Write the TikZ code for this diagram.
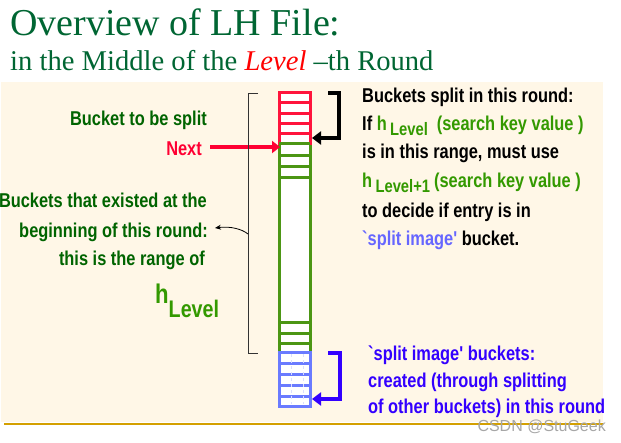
\documentclass[tikz,border=0pt]{standalone}
\usepackage{fontspec}
\setmainfont{Liberation Serif}
\newfontfamily\nb{Liberation Sans}[FakeStretch=0.82,Ligatures=TeXOff]
\newfontfamily\wmfont{Liberation Sans}
\usetikzlibrary{arrows.meta}
\definecolor{cream}{RGB}{255,247,231}
\definecolor{titlegreen}{RGB}{0,102,51}
\definecolor{dgreen}{RGB}{0,100,0}
\definecolor{lgreen}{RGB}{51,153,0}
\definecolor{colgreen}{RGB}{76,150,20}
\definecolor{colred}{RGB}{255,20,60}
\definecolor{nextred}{RGB}{255,0,51}
\definecolor{colblue}{RGB}{106,123,255}
\definecolor{lblue}{RGB}{102,102,255}
\definecolor{dblue}{RGB}{51,0,255}
\definecolor{gold}{RGB}{212,160,0}
\tikzset{
  lefttext/.style={anchor=base east, inner sep=0pt, font=\nb\bfseries\fontsize{20}{24}\selectfont, text=dgreen},
  righttext/.style={anchor=base west, inner sep=0pt, font=\nb\bfseries\fontsize{20}{24}\selectfont, text=black},
  bluetext/.style={anchor=base west, inner sep=0pt, font=\nb\bfseries\fontsize{20}{24}\selectfont, text=dblue},
  colline/.style={line width=3pt},
  bigarrow/.style={line width=4pt, -{Triangle[length=9pt,width=13pt]}},
}
\newcommand{\sub}[1]{\raisebox{-5pt}{\fontsize{18}{18}\selectfont #1}}
\begin{document}
\begin{tikzpicture}[x=1pt,y=-1pt]
\useasboundingbox (0,0) rectangle (621,442);
\fill[white] (0,0) rectangle (621,442);
\fill[cream] (1,82) rectangle (603,422);
\draw[gold, line width=2pt] (4,424) -- (603,424);

% title
\node[anchor=base west, inner sep=0pt, text=titlegreen, font=\fontsize{38}{40}\selectfont] (title) at (10,35) {Overview of LH File:};
\node[anchor=base west, inner sep=0pt, text=titlegreen, font=\fontsize{28.6}{30}\selectfont] (subtitle) at (10,70) {in the Middle of the \textcolor{red}{\itshape Level} --th Round};

% column
\fill[white] (279,92) rectangle (310,406);
\draw[colgreen, colline] (279,143) -- (279,352) (310,143) -- (310,352);
\foreach \y in {155,166,177,322,333,343} \draw[colgreen, colline] (279,\y) -- (310,\y);
\draw[colred, colline] (279,92) rectangle (310,143);
\foreach \y in {102,113,123,133} \draw[colred, colline] (279,\y) -- (310,\y);
\draw[colgreen, colline] (279,143) -- (310,143);
\draw[colblue, colline] (279,352) rectangle (310,406);
\foreach \y in {363,374,385,396} \draw[colblue, colline] (279,\y) -- (310,\y);
\draw[colblue!25, line width=1pt, dashed] (291,354) -- (291,404) (303,354) -- (303,404);

% coordinates for connectors
\coordinate (redtop) at (328,93);
\coordinate (redcorner1) at (339,93);
\coordinate (redcorner2) at (339,138);
\coordinate (redend) at (312,138);
\coordinate (bluetop) at (328,353);
\coordinate (bluecorner1) at (340,353);
\coordinate (bluecorner2) at (340,399);
\coordinate (blueend) at (312,399);
\coordinate (nextstart) at (210,147);
\coordinate (nextend) at (280,147);
\coordinate (brtop) at (258,93);
\coordinate (brtl) at (248,93);
\coordinate (brbl) at (248,353);
\coordinate (brbot) at (258,353);
\coordinate (brmid) at (248,234);
\coordinate (brtip) at (215,228);

% brackets and arrows
\draw[black, line width=4pt, -{Triangle[length=9pt,width=13pt]}] (redtop) -- (redcorner1) -- (redcorner2) -- (redend);
\draw[dblue, line width=4pt, -{Triangle[length=9pt,width=13pt]}] (bluetop) -- (bluecorner1) -- (bluecorner2) -- (blueend);
\draw[nextred, line width=4pt, -{Triangle[length=8pt,width=12pt]}] (nextstart) -- (nextend);
\draw[black!80, line width=1pt] (brtop) -- (brtl) -- (brbl) -- (brbot);
\draw[black, line width=0.8pt, -{Stealth[length=6pt,width=5pt]}] (brmid) .. controls (242,229) and (230,226) .. (brtip);

% left texts
\node[lefttext] (split) at (207,125) {Bucket to be split};
\node[lefttext, text=nextred] (next) at (202,155) {Next};
\node[lefttext] (ex1) at (207,207) {Buckets that existed at the};
\node[lefttext] (ex2) at (208,237) {beginning of this round:};
\node[lefttext] (ex3) at (205,265) {this is the range of};
\node[anchor=base west, inner sep=0pt, text=lgreen, font=\nb\bfseries\fontsize{27}{27}\selectfont] (hlevel) at (155,303) {h\raisebox{-14pt}{\fontsize{24}{24}\selectfont Level}};

% right texts
\node[righttext] (r1) at (362,102) {Buckets split in this round:};
\node[righttext] (r2) at (362,130) {If \textcolor{lgreen}{h\,\sub{Level}\hspace{9pt}(search key value )}};
\node[righttext] (r3) at (362,158) {is in this range, must use};
\node[righttext] (r4) at (362,187) {\textcolor{lgreen}{h\,\sub{Level+1}\hspace{4pt}(search key value )}};
\node[righttext] (r5) at (362,217) {to decide if entry is in};
\node[righttext] (r6) at (362,245) {\textcolor{lblue}{`split image'} bucket.};

% bottom right
\node[bluetext] (b1) at (368,360) {`split image' buckets:};
\node[bluetext] (b2) at (368,387) {created (through splitting};
\node[bluetext] (b3) at (368,413) {of other buckets) in this round};

% watermark
\node[anchor=base east, inner sep=0pt, text=black!35, font=\wmfont\fontsize{16}{16}\selectfont] (wm) at (606,431) {CSDN @StuGeek};
\end{tikzpicture}
\end{document}
